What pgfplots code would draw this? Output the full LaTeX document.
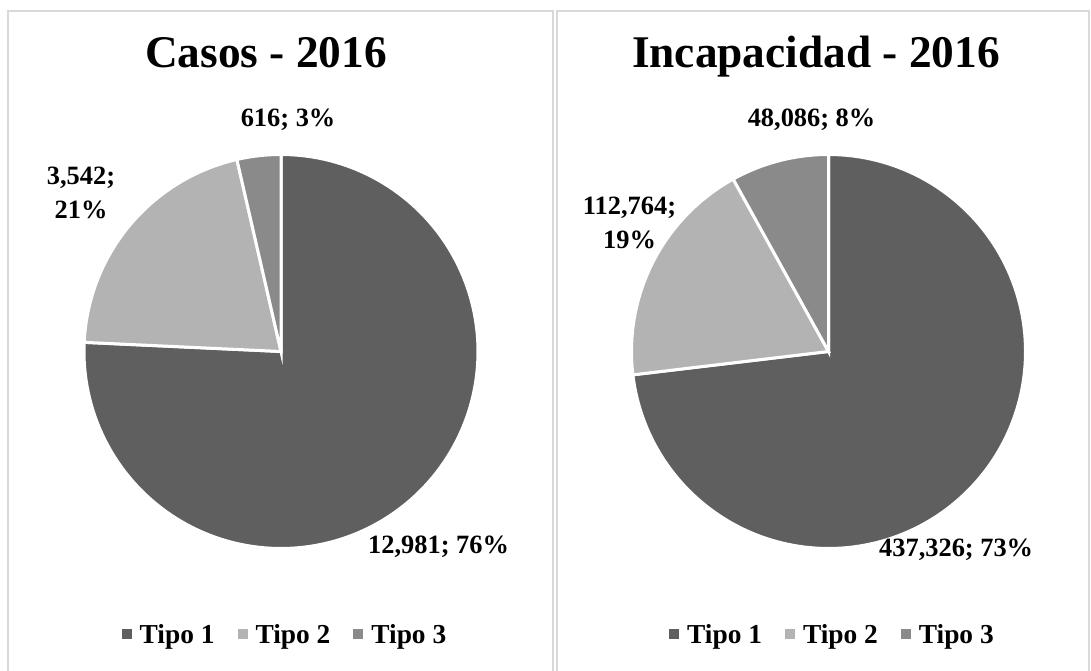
\documentclass[border=0pt]{standalone}
\usepackage{pgfplots}
\pgfplotsset{compat=1.18}
\usepackage{fontspec}
\setmainfont{Liberation Serif}
\definecolor{cA}{HTML}{5F5F5F}
\definecolor{cB}{HTML}{B3B3B3}
\definecolor{cC}{HTML}{8A8A8A}
\definecolor{frm}{HTML}{D9D9D9}

% data
\def\casosA{12981}\def\casosB{3542}\def\casosC{616}
\def\incA{437326}\def\incB{112764}\def\incC{48086}

\edef\cTot{\fpeval{\casosA+\casosB+\casosC}}
\edef\cEA{\fpeval{90-360*\casosA/\cTot}}
\edef\cEB{\fpeval{\cEA-360*\casosB/\cTot}}
\edef\iTot{\fpeval{\incA+\incB+\incC}}
\edef\iEA{\fpeval{90-360*\incA/\iTot}}
\edef\iEB{\fpeval{\iEA-360*\incB/\iTot}}

\newcommand\lblfont{\fontsize{26.5}{34}\selectfont\bfseries}
\pgfplotsset{pie/.style={width=394bp,height=394bp,scale only axis,
  xmin=-1,xmax=1,ymin=-1,ymax=1,hide axis,clip=false,
  legend columns=3,
  legend style={draw=none, fill=none, font=\fontsize{27.5}{30}\selectfont\bfseries,
    anchor=center, at={(0.51,-0.218)},
    /tikz/every odd column/.append style={column sep=6bp},
    /tikz/every even column/.append style={column sep=21bp}},
  legend image code/.code={\fill[##1,draw=none] (0bp,-5bp) rectangle (10bp,5bp);},
  slice/.style={draw=white, line width=3bp, line join=miter, samples=150}}}

\begin{document}
\begin{tikzpicture}
\useasboundingbox (0,0) rectangle (1091bp,671bp);
\fill[white] (0,0) rectangle (1091bp,671bp);
\draw[frm, line width=1.5bp] (8bp,-10bp) rectangle (553bp,660bp);
\draw[frm, line width=1.5bp] (557bp,-10bp) rectangle (1089bp,660bp);

\node[font=\fontsize{45.5}{48}\selectfont\bfseries, anchor=base] at (266bp,603bp) {Casos - 2016};
\node[font=\fontsize{45.5}{48}\selectfont\bfseries, anchor=base] at (816bp,603bp) {Incapacidad - 2016};

\begin{axis}[pie, at={(281bp,319.5bp)}, anchor=center]
\addplot[fill=cA, slice, domain=\cEA:90] ({cos(x)},{sin(x)}) -- (axis cs:0,0) -- cycle;
\addlegendentry{Tipo 1}
\addplot[fill=cB, slice, domain=\cEB:\cEA] ({cos(x)},{sin(x)}) -- (axis cs:0,0) -- cycle;
\addlegendentry{Tipo 2}
\addplot[fill=cC, slice, domain=-270:\cEB] ({cos(x)},{sin(x)}) -- (axis cs:0,0) -- cycle;
\addlegendentry{Tipo 3}
\node[font=\lblfont] at (axis cs:0.036,1.175) {616; 3\%};
\node[font=\lblfont, align=center] at (axis cs:-1.015,0.805) {3,542;\\21\%};
\node[font=\lblfont] at (axis cs:0.80,-0.99) {12,981; 76\%};
\end{axis}

\begin{axis}[pie, at={(828.5bp,319.5bp)}, anchor=center]
\addplot[fill=cA, slice, domain=\iEA:90] ({cos(x)},{sin(x)}) -- (axis cs:0,0) -- cycle;
\addlegendentry{Tipo 1}
\addplot[fill=cB, slice, domain=\iEB:\iEA] ({cos(x)},{sin(x)}) -- (axis cs:0,0) -- cycle;
\addlegendentry{Tipo 2}
\addplot[fill=cC, slice, domain=-270:\iEB] ({cos(x)},{sin(x)}) -- (axis cs:0,0) -- cycle;
\addlegendentry{Tipo 3}
\node[font=\lblfont] at (axis cs:-0.086,1.175) {48,086; 8\%};
\node[font=\lblfont, align=center] at (axis cs:-1.01,0.653) {112,764;\\19\%};
\node[font=\lblfont] at (axis cs:0.648,-1.008) {437,326; 73\%};
\end{axis}
\end{tikzpicture}
\end{document}
